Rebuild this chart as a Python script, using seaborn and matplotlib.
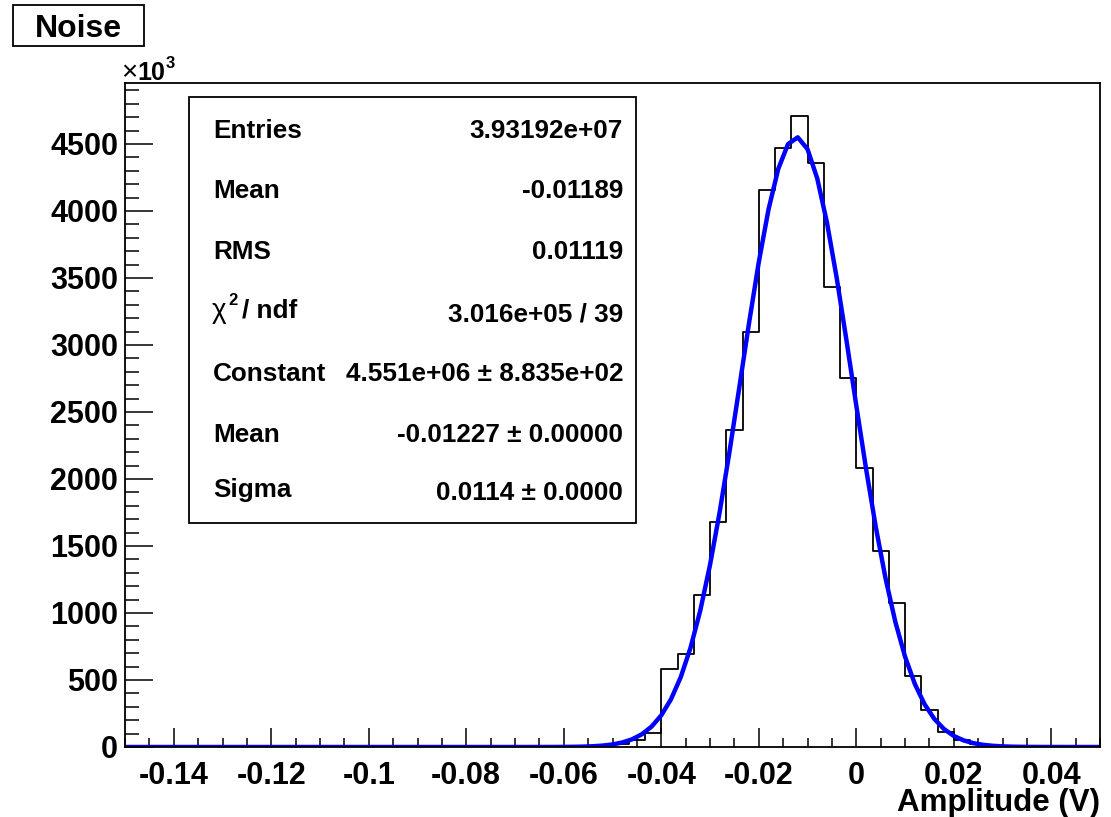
import numpy as np
import pandas as pd
import matplotlib
matplotlib.use("Agg")
import matplotlib.pyplot as plt
import seaborn as sns
from matplotlib.patches import Rectangle
from matplotlib.ticker import MultipleLocator, FixedLocator, FixedFormatter

# ---------------- data ----------------
x_min, x_max, n_bins = -0.15, 0.05, 60
# bin contents in units of 10^3 entries, one per bin from -0.15 to 0.05
counts_k = [0, 0, 0, 0, 0, 0, 0, 0, 0, 0,
            0, 0, 0, 0, 0, 0, 0, 0, 0, 0,
            0, 0, 0, 0, 0, 0, 0, 0.5, 2, 6,
            20, 52, 102, 579, 693, 1132, 1679, 2367, 3099, 4155,
            4470, 4708, 4361, 3429, 2754, 2084, 1463, 1071, 531, 276,
            110, 52, 20, 6, 2, 0, 0, 0, 0, 0]

# Gaussian fit parameters (Constant in 10^3)
fit_const = 4551.0
fit_mean = -0.01227
fit_sigma = 0.0114

x_tick_vals = [-0.14, -0.12, -0.10, -0.08, -0.06, -0.04, -0.02, 0.0, 0.02, 0.04]
x_tick_labels = ["-0.14", "-0.12", "-0.1", "-0.08", "-0.06", "-0.04", "-0.02", "0", "0.02", "0.04"]
y_tick_vals = [0, 500, 1000, 1500, 2000, 2500, 3000, 3500, 4000, 4500]
y_tick_labels = ["0", "500", "1000", "1500", "2000", "2500", "3000", "3500", "4000", "4500"]

stat_labels = ["Entries", "Mean", "RMS", None, "Constant", "Mean", "Sigma"]
stat_values = ["3.93192e+07", "-0.01189", "0.01119", "3.016e+05 / 39",
               "4.551e+06 \u00b1 8.835e+02", "-0.01227 \u00b1 0.00000", "0.0114 \u00b1 0.0000"]

title = "Noise"
x_title = "Amplitude (V)"

# ---------------- style ----------------
sns.set_style("white")
plt.rcParams["font.family"] = ["Liberation Sans", "DejaVu Sans"]
plt.rcParams["font.weight"] = "bold"
plt.rcParams["text.color"] = "black"
plt.rcParams["axes.labelcolor"] = "black"
plt.rcParams["xtick.color"] = "black"
plt.rcParams["ytick.color"] = "black"
plt.rcParams["axes.edgecolor"] = "black"

W, H = 1111, 817
fig = plt.figure(figsize=(W / 100, H / 100), dpi=100)
fig.patch.set_facecolor("white")

def fx(px):
    return px / W

def fy(py):
    return 1 - py / H

ax_l, ax_r, ax_t, ax_b = 125, 1100, 83, 747
ax = fig.add_axes([fx(ax_l), fy(ax_b), fx(ax_r - ax_l), (ax_b - ax_t) / H])

bin_w = (x_max - x_min) / n_bins
centers = x_min + bin_w * (np.arange(n_bins) + 0.5)
df = pd.DataFrame({"amp": centers, "w": np.asarray(counts_k, dtype=float)})

sns.histplot(data=df, x="amp", weights="w", bins=n_bins, binrange=(x_min, x_max),
             element="step", fill=False, color="black", linewidth=1.3, ax=ax)

xs = np.linspace(x_min, x_max, 101)
ys = fit_const * np.exp(-0.5 * ((xs - fit_mean) / fit_sigma) ** 2)
sns.lineplot(x=xs, y=ys, color="#0000ff", linewidth=3.2, ax=ax)

ax.set_xlim(x_min, x_max)
ax.set_ylim(0, 4955)
ax.set_xlabel("")
ax.set_ylabel("")

for s in ax.spines.values():
    s.set_color("black")
    s.set_linewidth(1.3)
    s.set_visible(True)

ax.xaxis.set_major_locator(FixedLocator(x_tick_vals))
ax.xaxis.set_major_formatter(FixedFormatter(x_tick_labels))
ax.xaxis.set_minor_locator(MultipleLocator(0.005))
ax.yaxis.set_major_locator(FixedLocator(y_tick_vals))
ax.yaxis.set_major_formatter(FixedFormatter(y_tick_labels))
ax.yaxis.set_minor_locator(MultipleLocator(100))

ax.tick_params(axis="x", which="major", direction="in", length=14, width=1.1,
               color="black", labelcolor="black", labelsize=22, pad=10, bottom=True, top=False)
ax.tick_params(axis="x", which="minor", direction="in", length=6.5, width=1.1,
               color="black", bottom=True, top=False)
ax.tick_params(axis="y", which="major", direction="in", length=20, width=1.1,
               color="black", labelcolor="black", labelsize=22, pad=5, left=True, right=False)
ax.tick_params(axis="y", which="minor", direction="in", length=10, width=1.1,
               color="black", left=True, right=False)
for lab in ax.get_xticklabels() + ax.get_yticklabels():
    lab.set_fontweight("bold")

# x axis title
fig.text(fx(1100), fy(811), x_title, ha="right", va="baseline",
         fontsize=22.5, fontweight="bold", color="black")

# x10^3 multiplier
fig.text(fx(121), fy(80), "\u00d7", ha="left", va="baseline", fontsize=20,
         fontweight="normal", color="black")
fig.text(fx(137), fy(80), "10", ha="left", va="baseline", fontsize=18,
         fontweight="bold", color="black")
fig.text(fx(165.5), fy(68), "3", ha="left", va="baseline", fontsize=12,
         fontweight="bold", color="black")

# title box
fig.patches.append(Rectangle((fx(13), fy(46)), fx(131), 41 / H, transform=fig.transFigure,
                             facecolor="white", edgecolor="black", linewidth=1.3))
fig.text(fx(78.5), fy(37), title, ha="center", va="baseline", fontsize=23,
         fontweight="bold", color="black")

# stats box
fig.patches.append(Rectangle((fx(189), fy(523)), fx(636 - 189), (523 - 97) / H,
                             transform=fig.transFigure, facecolor="white",
                             edgecolor="black", linewidth=1.3, zorder=5))
label_base = [138, 198.5, 259, 318, 380.5, 441.5, 497]
value_base = [138, 198.5, 259, 321, 380.5, 441.5, 500.5]
for lab, val, lb, vb in zip(stat_labels, stat_values, label_base, value_base):
    if lab is not None:
        fig.text(fx(213), fy(lb), lab, ha="left", va="baseline", fontsize=18.8,
                 fontweight="bold", color="black", zorder=6)
    fig.text(fx(623), fy(vb), val, ha="right", va="baseline", fontsize=18.8,
             fontweight="bold", color="black", zorder=6)
# chi^2 / ndf label
fig.text(fx(212), fy(318), "\u03c7", ha="left", va="baseline", fontsize=20,
         fontweight="normal", color="black", zorder=6)
fig.text(fx(228), fy(305), "2", ha="left", va="baseline", fontsize=12,
         fontweight="bold", color="black", zorder=6)
fig.text(fx(242), fy(318), "/ ndf", ha="left", va="baseline", fontsize=18.8,
         fontweight="bold", color="black", zorder=6)

fig.savefig("out.png", dpi=100, facecolor="white")
